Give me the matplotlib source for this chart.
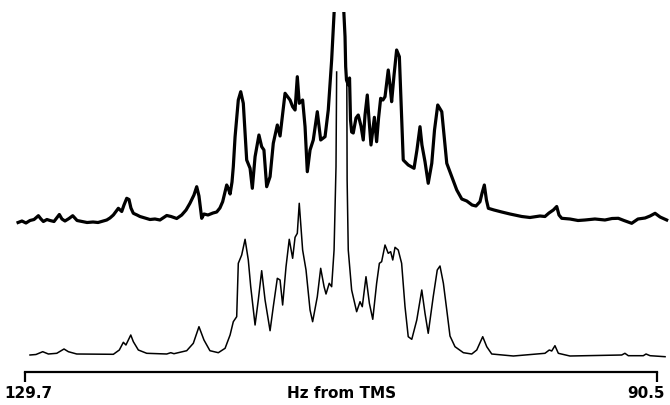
import numpy as np
import matplotlib
matplotlib.use("Agg")
import matplotlib.pyplot as plt

# axis end labels (Hz from TMS)
x_left, x_right = 129.7, 90.5

# calculated spectrum (lower trace): Hz, intensity (arb. units)
calc_hz = [129.39, 129.02, 128.60, 128.25, 127.73, 127.28, 127.01, 126.49, 124.22, 123.85,
           123.60, 123.44, 123.14, 122.98, 122.67, 122.15, 120.91, 120.66, 120.46, 119.67,
           119.26, 118.91, 118.60, 118.23, 117.71, 117.29, 116.98, 116.78, 116.57, 116.47,
           116.26, 116.05, 115.85, 115.70, 115.43, 115.23, 115.02, 114.81, 114.50, 114.30,
           114.05, 113.88, 113.72, 113.51, 113.31, 113.10, 112.95, 112.81, 112.69, 112.48,
           112.27, 112.02, 111.86, 111.57, 111.36, 111.15, 111.03, 110.83, 110.68, 110.53,
           110.41, 110.37, np.nan, 109.74, 109.72, 109.65, 109.44, 109.13, 108.92, 108.78,
           108.55, 108.34, 108.13, 107.89, 107.72, 107.58, 107.37, 107.17, 107.02, 106.89,
           106.75, 106.55, 106.34, 106.13, 105.93, 105.71, 105.40, 105.09, 104.89, 104.69,
           104.38, 104.13, 103.96, 103.75, 103.54, 103.34, 103.03, 102.51, 101.99, 101.68,
           101.31, 101.06, 100.75, 99.41, 97.45, 97.18, 97.03, 96.83, 96.62, 95.90,
           92.69, 92.49, 92.28, 91.35, 91.18, 90.93, 90.00]
calc_int = [0, 0.5, 3.3, 1, 1.7, 6, 3.3, 1, 0.7, 5,
            12.7, 10, 20, 13.3, 5, 1.7, 1, 2.3, 1.3, 4.3,
            11.7, 28.3, 15, 4.3, 2.3, 6.7, 20, 33.3, 38.3, 91.7,
            100, 115.7, 95, 68.3, 30, 55, 84.3, 55, 24.3, 48.3,
            76.7, 75, 50, 88.3, 115.7, 96.7, 117.7, 121.7, 151.7, 105,
            85, 45, 33.3, 58.3, 86.7, 68.3, 61, 71.7, 68.3, 105,
            188.3, 283, np.nan, 275, 175, 105, 65, 43.3, 53.3, 48.3,
            78.3, 51.7, 35.7, 71.7, 91.7, 93.3, 110, 101.7, 103.3, 95,
            107.7, 105, 91.7, 48.3, 18.3, 15.7, 35, 65, 41.7, 21.7,
            58.3, 85, 89, 71.7, 45, 19, 8.3, 2.3, 1, 5,
            18.3, 8.3, 1, -1, 1.7, 5, 4, 9.3, 1.7, -1,
            0, 1.7, -0.7, -0.7, 1, -0.7, -1.7]

# observed spectrum (upper trace), central line runs off the top of the paper
obs_hz = [130.13, 129.89, 129.64, 129.39, 129.14, 128.87, 128.71, 128.56, 128.34, 128.15,
          127.90, 127.57, 127.41, 127.22, 126.97, 126.74, 126.47, 126.16, 125.85, 125.48,
          125.17, 124.86, 124.63, 124.43, 124.22, 123.91, 123.70, 123.56, 123.39, 123.25,
          123.13, 122.98, 122.75, 122.57, 122.26, 121.95, 121.64, 121.33, 120.91, 120.64,
          120.29, 119.98, 119.71, 119.47, 119.22, 119.05, 118.91, 118.74, 118.60, 118.35,
          118.04, 117.81, 117.61, 117.44, 117.19, 117.08, 116.98, 116.86, 116.78, 116.67,
          116.47, 116.32, 116.16, 115.95, 115.74, 115.60, 115.43, 115.19, 115.02, 114.88,
          114.71, 114.50, 114.30, 114.05, 113.88, 113.57, 113.26, 113.10, 112.95, 112.81,
          112.69, 112.48, 112.33, 112.19, 112.02, 111.82, 111.57, 111.36, 111.09, 110.89,
          110.68, 110.51, 110.48, 109.96, 109.94, 109.85, 109.81, 109.76, 109.65, 109.57,
          109.51, 109.44, 109.34, 109.17, 109.03, 108.86, 108.72, 108.61, 108.47, 108.36,
          108.24, 108.03, 107.89, 107.77, 107.64, 107.50, 107.37, 107.17, 107.06, 106.96,
          106.81, 106.65, 106.48, 106.38, 106.24, 105.93, 105.57, 105.39, 105.20, 105.08,
          104.89, 104.69, 104.47, 104.30, 104.10, 103.85, 103.71, 103.54, 103.23, 102.92,
          102.61, 102.30, 101.97, 101.73, 101.48, 101.35, 101.21, 101.08, 100.96, 100.61,
          100.13, 99.62, 98.89, 98.38, 97.76, 97.45, 97.20, 96.93, 96.72, 96.58,
          96.41, 95.90, 95.40, 94.97, 94.35, 93.73, 93.29, 92.90, 92.55, 92.07,
          91.68, 91.24, 90.93, 90.62, 90.31, 89.90]
obs_int = [-0.5, 1, -1, 1.5, 2.5, 6.3, 3, 0.5, 2.5, 1.5,
           0.5, 7.5, 3, 1, 3.5, 6.3, 1.5, 0.5, -0.5, 0,
           -0.5, 1, 2, 4, 7, 13.7, 10.5, 17, 23.7, 22.5,
           14, 8.7, 7, 5.5, 4, 2.5, 3, 2, 6.5, 5.5,
           3.5, 7, 12, 18.7, 27, 35.3, 26, 3.7, 8, 7,
           9, 10, 14, 20.3, 37, 33, 28, 40, 55.3, 85.3,
           122, 130.3, 118.7, 62, 53.7, 33.7, 65.3, 87, 75.3, 72,
           35.3, 45.3, 78.7, 97, 86, 128.7, 122, 115.3, 112, 145.3,
           118.7, 122, 95.3, 50.3, 72, 82, 110.3, 82, 85.3, 112,
           162, 215, 400, 400, 215, 185.3, 155.3, 142, 137, 144,
           102, 90, 89, 104, 107, 96, 82, 107, 127, 102,
           77, 104.7, 80.3, 104, 123.7, 122, 125.3, 152, 137, 120.3,
           147, 172, 165.3, 122, 62, 57, 53.7, 72, 95.3, 77,
           60.3, 38.7, 58.7, 92, 117, 110.3, 87, 58.7, 45.3, 32,
           23, 21, 17, 16, 20.3, 29, 37, 22, 13.7, 12,
           10, 8, 5.5, 4.5, 6, 5.5, 9, 12, 15.5, 7,
           3.7, 3, 1.5, 2, 3, 2, 3.5, 3.7, 1.5, -1.3,
           3, 4, 6, 8.7, 5, 2]

calc_offset = 17
obs_offset = 150

fig = plt.figure(figsize=(6.7, 4.05), dpi=100)
ax = fig.add_axes([0, 33 / 405, 1, 360 / 405])

ax.plot(obs_hz, np.array(obs_int) + obs_offset, color='black', lw=2.3,
        solid_joinstyle='round')
ax.plot(calc_hz, np.array(calc_int) + calc_offset, color='black', lw=1.1)

ax.set_xlim(131.2506, 89.694)
ax.set_ylim(0, 360)

for s in ['top', 'left', 'right']:
    ax.spines[s].set_visible(False)
ax.spines['bottom'].set_bounds(x_left, x_right)
ax.spines['bottom'].set_linewidth(1.6)
ax.set_yticks([])
ax.set_xticks([x_left, x_right])
ax.set_xticklabels([])
ax.tick_params(axis='x', direction='out', length=7.5, width=1.6)

fig.text(28 / 670, 1 - 393 / 405, '129.7', ha='center', va='center',
         fontsize=11, fontweight='bold')
fig.text(342 / 670, 1 - 393 / 405, 'Hz from TMS', ha='center', va='center',
         fontsize=11, fontweight='bold')
fig.text(646 / 670, 1 - 393 / 405, '90.5', ha='center', va='center',
         fontsize=11, fontweight='bold')

plt.savefig('out.png', dpi=100)
